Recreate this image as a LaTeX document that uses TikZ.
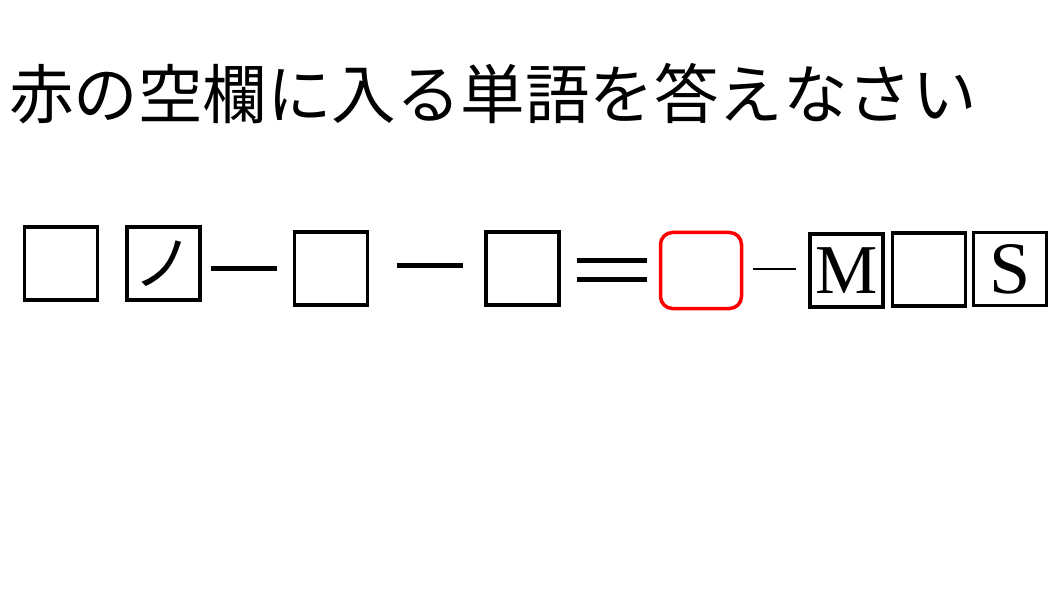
\documentclass[tikz,border=0pt]{standalone}
\usepackage{fontspec}
\setmainfont{Liberation Serif}
\newfontfamily\cjk{Noto Sans CJK JP}
\begin{document}
\begin{tikzpicture}[x=1pt,y=-1pt,
  blank/.style={draw=black,line width=3.5pt,minimum width=#1,minimum height=#1,inner sep=0pt},
  blank/.default=73pt,
  redbox/.style={draw=red,line width=3.5pt,rounded corners=12pt,minimum width=81pt,minimum height=76pt,inner sep=0pt},
  bar/.style={line width=5pt},
  thinbar/.style={line width=2.5pt}]
\useasboundingbox (0,0) rectangle (1060,596);
\node[anchor=west,inner sep=0pt,font=\cjk\fontsize{64.5}{64.5}\selectfont] (title) at (9,94) {赤の空欄に入る単語を答えなさい};
\node[blank] (b1) at (61,263.5) {};
\node[blank,font=\cjk\fontsize{60}{60}\selectfont] (b2) at (163.5,263.5) {ノ};
\node[blank] (b3) at (331,268.5) {};
\node[blank] (b4) at (522.5,268.5) {};
\node[redbox] (r) at (701,270.5) {};
\node[blank,font=\fontsize{70}{70}\selectfont] (bm) at (846.5,270.5) {M};
\node[blank] (b6) at (929,269.5) {};
\node[blank,font=\fontsize{74}{74}\selectfont] (bs) at (1010,269) {S};
\coordinate (d1a) at (211,268); \coordinate (d1b) at (277,268);
\coordinate (d2a) at (397,265); \coordinate (d2b) at (463,265);
\coordinate (e1a) at (577,260); \coordinate (e1b) at (647,260);
\coordinate (e2a) at (577,279); \coordinate (e2b) at (647,279);
\coordinate (d3a) at (753,269); \coordinate (d3b) at (796,269);
\draw[bar] (d1a) -- (d1b);
\draw[bar] (d2a) -- (d2b);
\draw[bar] (e1a) -- (e1b);
\draw[bar] (e2a) -- (e2b);
\draw[thinbar] (d3a) -- (d3b);
\end{tikzpicture}
\end{document}
